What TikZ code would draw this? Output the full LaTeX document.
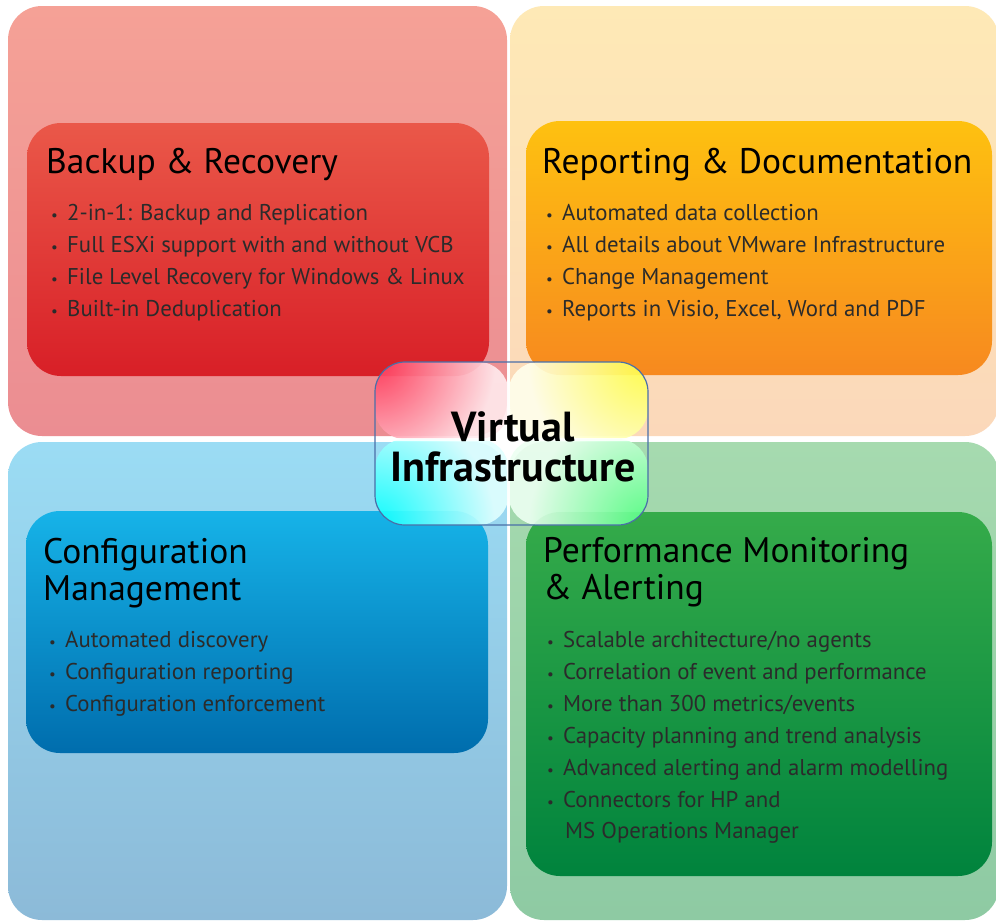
\documentclass[tikz,border=0pt]{standalone}
\usepackage{fontspec}
\setmainfont{PT Sans}
\definecolor{tlTop}{HTML}{F5A196}
\definecolor{tlBot}{HTML}{EB8D92}
\definecolor{trTop}{HTML}{FEE9B6}
\definecolor{trBot}{HTML}{FBD8BA}
\definecolor{blTop}{HTML}{9BDCF4}
\definecolor{blBot}{HTML}{8CBAD8}
\definecolor{brTop}{HTML}{A6DAAF}
\definecolor{brBot}{HTML}{8ECAA3}
\definecolor{rTop}{HTML}{EA5849}
\definecolor{rBot}{HTML}{D81F27}
\definecolor{oTop}{HTML}{FEC110}
\definecolor{oBot}{HTML}{F7891F}
\definecolor{bTop}{HTML}{16B3E8}
\definecolor{bBot}{HTML}{006DAD}
\definecolor{gTop}{HTML}{35AB4A}
\definecolor{gBot}{HTML}{00833D}
\definecolor{itemgray}{HTML}{2B2B2B}
\definecolor{viBorder}{HTML}{4A6FA8}
\definecolor{cRed}{HTML}{FF3355}
\definecolor{cYel}{HTML}{FFFF40}
\definecolor{cCya}{HTML}{00FFFF}
\definecolor{cGre}{HTML}{50FF80}
\colorlet{cRedP}{cRed!10!white}
\colorlet{cYelP}{cYel!10!white}
\colorlet{cCyaP}{cCya!12!white}
\colorlet{cGreP}{cGre!10!white}
\pgfdeclareradialshading{fadeRed}{\pgfpointorigin}{color(0bp)=(cRed); color(10bp)=(cRedP); color(50bp)=(cRedP)}
\pgfdeclareradialshading{fadeYel}{\pgfpointorigin}{color(0bp)=(cYel); color(10bp)=(cYelP); color(50bp)=(cYelP)}
\pgfdeclareradialshading{fadeCya}{\pgfpointorigin}{color(0bp)=(cCya); color(10bp)=(cCyaP); color(50bp)=(cCyaP)}
\pgfdeclareradialshading{fadeGre}{\pgfpointorigin}{color(0bp)=(cGre); color(10bp)=(cGreP); color(50bp)=(cGreP)}
\newcommand\bul{\makebox[17pt][l]{\hspace{1pt}\fontsize{15}{15}\selectfont\textbullet}}
\begin{document}
\begin{tikzpicture}[x=1pt,y=1pt,
  quadbox/.style={rectangle, rounded corners=34pt, inner sep=0pt, draw=none},
  panelbox/.style={rectangle, rounded corners=34pt, inner sep=0pt, draw=none},
  ttl/.style={anchor=base west, inner sep=0pt, font=\fontsize{35.5}{36}\selectfont, text=black},
  itm/.style={anchor=base west, inner sep=0pt, font=\fontsize{22.8}{23}\selectfont, text=itemgray},
  cornershade/.style={fill opacity=0.9}
]
\useasboundingbox (0,0) rectangle (996,-921);
\fill[white] (0,0) rectangle (996,-921);
\coordinate (cross) at (508.5,-439);

% outer quadrants
\node[quadbox, minimum width=499, minimum height=430, top color=tlTop, bottom color=tlBot] (qTL) at (257.5,-221) {};
\node[quadbox, minimum width=489, minimum height=430, top color=trTop, bottom color=trBot] (qTR) at (754.5,-221) {};
\node[quadbox, minimum width=499, minimum height=478, top color=blTop, bottom color=blBot] (qBL) at (257.5,-681) {};
\node[quadbox, minimum width=489, minimum height=478, top color=brTop, bottom color=brBot] (qBR) at (754.5,-681) {};

% inner panels
\node[panelbox, minimum width=462, minimum height=253, top color=rTop, bottom color=rBot] (pBackup) at (258,-249.5) {};
\node[panelbox, minimum width=466, minimum height=254, top color=oTop, bottom color=oBot] (pReport) at (759,-248) {};
\node[panelbox, minimum width=462, minimum height=242, top color=bTop, bottom color=bBot] (pConfig) at (257,-632) {};
\node[panelbox, minimum width=466, minimum height=364, top color=gTop, bottom color=gBot] (pPerf) at (759,-694) {};

% titles
\node[ttl] (tBackup) at (46,-173) {Backup \& Recovery};
\node[ttl] (tReport) at (542,-173) {Reporting \& Documentation};
\node[ttl] (tConfig1) at (43,-563) {Configuration};
\node[ttl] (tConfig2) at (43,-600) {Management};
\node[ttl] (tPerf1) at (543,-562) {Performance Monitoring};
\node[ttl] (tPerf2) at (543,-599) {\& Alerting};

% bullets
\foreach \t [count=\i from 0] in {{2-in-1: Backup and Replication},{Full ESXi support with and without VCB},{File Level Recovery for Windows \& Linux},{Built-in Deduplication}}
  \node[itm] (iB\i) at (50,-220-32*\i) {\bul\t};
\foreach \t [count=\i from 0] in {{Automated data collection},{All details about VMware Infrastructure},{Change Management},{Reports in Visio, Excel, Word and PDF}}
  \node[itm] (iR\i) at (545,-220-32*\i) {\bul\t};
\foreach \t [count=\i from 0] in {{Automated discovery},{Configuration reporting},{Configuration enforcement}}
  \node[itm] (iC\i) at (48,-647-32*\i) {\bul\t};
\foreach \t [count=\i from 0] in {{Scalable architecture/no agents},{Correlation of event and performance},{More than 300 metrics/events},{Capacity planning and trend analysis},{Advanced alerting and alarm modelling},{Connectors for HP and}}
  \node[itm] (iP\i) at (546,-647-32*\i) {\bul\t};
\node[itm] (iP6) at (565,-838) {MS Operations Manager};

% centre
\node[rectangle, rounded corners=30pt, minimum width=273, minimum height=163, inner sep=0pt,
  draw=viBorder, line width=1.2pt,
  path picture={
    \begin{scope}[cornershade]
      \clip (path picture bounding box.north west) rectangle (cross);
      \shade[shading=fadeRed] (path picture bounding box.north west) circle (300pt);
    \end{scope}
    \begin{scope}[cornershade]
      \clip (path picture bounding box.north east) rectangle (cross);
      \shade[shading=fadeYel] (path picture bounding box.north east) circle (300pt);
    \end{scope}
    \begin{scope}[cornershade]
      \clip (path picture bounding box.south west) rectangle (cross);
      \shade[shading=fadeCya] (path picture bounding box.south west) circle (300pt);
    \end{scope}
    \begin{scope}[cornershade]
      \clip (path picture bounding box.south east) rectangle (cross);
      \shade[shading=fadeGre] (path picture bounding box.south east) circle (300pt);
    \end{scope}
    \draw[white, line width=3pt, opacity=0.85] (cross |- path picture bounding box.north) -- (cross |- path picture bounding box.south);
    \draw[white, line width=3pt, opacity=0.85] (cross -| path picture bounding box.west) -- (cross -| path picture bounding box.east);
  }] (vi) at (511.5,-443.5) {};
\node[align=center, inner sep=0pt, font=\fontsize{42}{40}\selectfont\bfseries, text=black] (viText) at (513,-447) {Virtual\\Infrastructure};
\end{tikzpicture}
\end{document}
